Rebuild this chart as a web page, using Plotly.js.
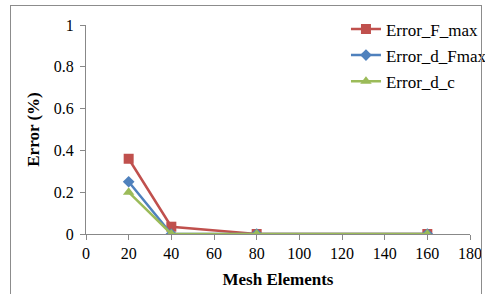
<!DOCTYPE html>
<html><head><meta charset="utf-8">
<script src="https://cdn.plot.ly/plotly-3.0.1.min.js"></script>
<style>
html,body{margin:0;padding:0;background:#fff;}
#frame{position:absolute;left:10px;top:5px;width:472px;height:290px;border:1px solid #8c8c8c;box-sizing:border-box;pointer-events:none;z-index:5;}
#chart{position:absolute;left:0;top:0;width:485px;height:294px;}
</style></head>
<body>
<div id="chart"></div><div id="frame"></div>
<script>
const meshElements = [20, 40, 80, 160];
const errorFmax = [0.36, 0.035, 0, 0];
const errorDFmax = [0.25, 0, 0, 0];
const errorDc = [0.2, 0, 0, 0];
const seriesNames = ["Error_F_max", "Error_d_Fmax", "Error_d_c"];

const serif = "'Liberation Serif'";
const traces = [
  {x: meshElements, y: errorFmax, name: seriesNames[0], legendgroup: "a", mode: "lines+markers",
   line: {color: "#C0504D", width: 2.5}, marker: {symbol: "square", size: 10, color: "#C0504D"}},
  {x: meshElements, y: errorDFmax, name: seriesNames[1], legendgroup: "b", mode: "lines+markers",
   line: {color: "#4F81BD", width: 2.5}, marker: {symbol: "diamond", size: 9, color: "#4F81BD"}},
  {x: meshElements, y: errorDc, name: seriesNames[2], legendgroup: "c", mode: "lines+markers",
   line: {color: "#9BBB59", width: 2.5}, marker: {symbol: "triangle-up", size: 10, color: "#9BBB59"}}
];
const layout = {
  width: 485, height: 294,
  margin: {l: 86, r: 15, t: 25, b: 60, autoexpand: false},
  paper_bgcolor: "#fff", plot_bgcolor: "#fff",
  font: {family: serif, size: 16, color: "#000"},
  showlegend: true,
  legend: {x: 0.677, y: 1.065, xanchor: "left", yanchor: "top", bgcolor: "rgba(0,0,0,0)",
           font: {family: serif, size: 17, color: "#000"}, itemwidth: 30, tracegroupgap: 1,
           valign: "middle"},
  xaxis: {range: [0, 180], dtick: 20, tick0: 0, showgrid: false, zeroline: false,
          showline: true, linecolor: "#888", linewidth: 1, ticks: "outside", ticklen: 5, tickcolor: "#888",
          tickfont: {family: serif, size: 16, color: "#000"},
          title: {text: "<b>Mesh Elements</b>", font: {family: serif, size: 17}, standoff: 11}},
  yaxis: {range: [0, 1], dtick: 0.2, showgrid: false, zeroline: false,
          showline: true, linecolor: "#888", linewidth: 1, ticks: "outside", ticklen: 5, tickcolor: "#888",
          tickfont: {family: serif, size: 16, color: "#000"}, ticklabelstandoff: 3,
          title: {text: "<b>Error (%)</b>", font: {family: serif, size: 17}, standoff: 9}}
};
Plotly.newPlot("chart", traces, layout, {displayModeBar: false, staticPlot: true});
</script>
</body></html>
